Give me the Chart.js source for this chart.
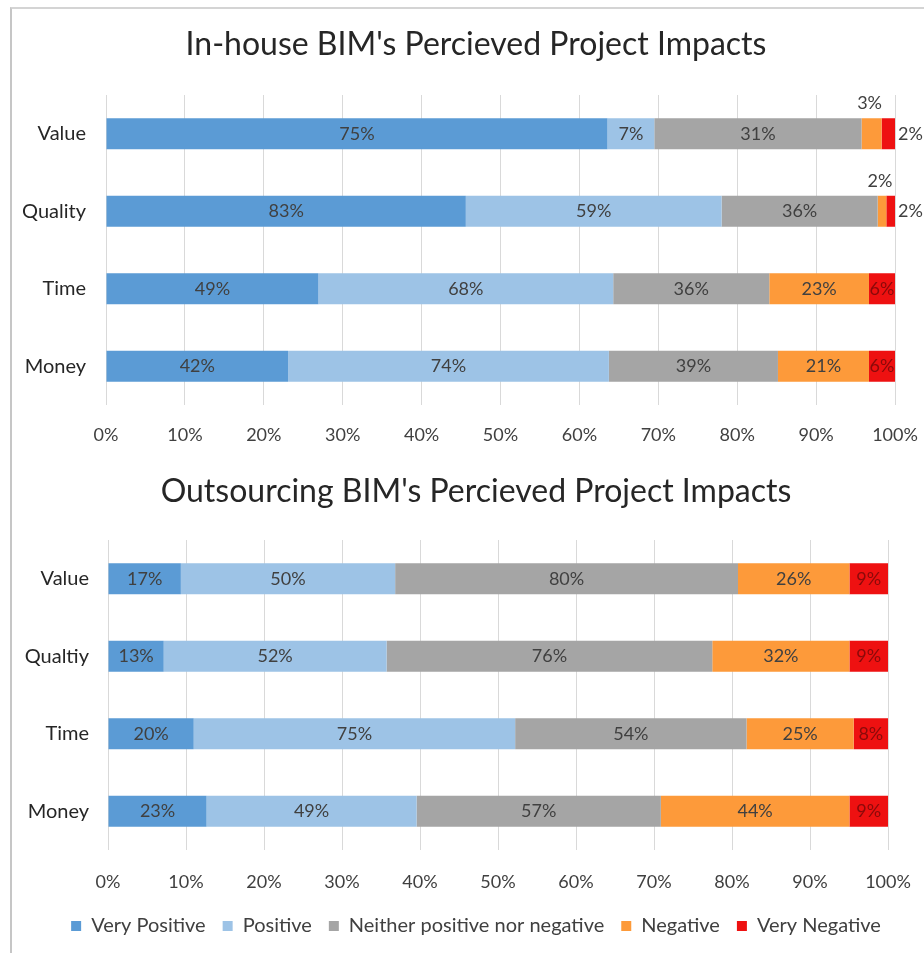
<!doctype html>
<html>
<head>
    <meta charset="utf-8">
    <title>BIM Perceived Project Impacts</title>
    <script src="https://cdn.jsdelivr.net/npm/chart.js"></script>
    <style>
        body { margin: 0; background: #fff; overflow: hidden; }
        #frame { position: absolute; left: 10px; top: 7px; width: 912px; height: 944px;
                 border-left: 2px solid #c6c6c6; border-top: 2px solid #d4d4d4; }
        .box { position: absolute; left: 0; width: 924px; }
        #box1 { top: 0; height: 460px; }
        #box2 { top: 460px; height: 494px; }
    </style>
</head>
<body>
<div id="frame"></div>
<div class="box" id="box1"><canvas id="chartIn"></canvas></div>
<div class="box" id="box2"><canvas id="chartOut"></canvas></div>

<script>
    // survey percentages shown on the bars; bars themselves are 100% stacked
    var seriesNames = ['Very Positive', 'Positive', 'Neither positive nor negative', 'Negative', 'Very Negative'];
    var seriesColors = ['#5b9bd5', '#9dc3e6', '#a5a5a5', '#fd9a3a', '#ee1111'];

    var inhouseCats = ['Value', 'Quality', 'Time', 'Money'];
    var inVeryPos = [75, 83, 49, 42];
    var inPos = [7, 59, 68, 74];
    var inNeither = [31, 36, 36, 39];
    var inNeg = [3, 2, 23, 21];
    var inVeryNeg = [2, 2, 6, 6];

    var outCats = ['Value', 'Qualtiy', 'Time', 'Money'];
    var outVeryPos = [17, 13, 20, 23];
    var outPos = [50, 52, 75, 49];
    var outNeither = [80, 76, 54, 57];
    var outNeg = [26, 32, 25, 44];
    var outVeryNeg = [9, 9, 8, 9];

    var xTicks = [0, 10, 20, 30, 40, 50, 60, 70, 80, 90, 100];

    var FONT = 'Lato, "Open Sans", sans-serif';
    Chart.defaults.font.family = FONT;
    Chart.defaults.color = '#404040';

    function buildDatasets(rows) {
        var n = rows[0].length;
        var totals = [];
        for (var i = 0; i < n; i++) {
            var t = 0;
            rows.forEach(function (r) { t += r[i]; });
            totals.push(t);
        }
        return rows.map(function (r, k) {
            return {
                label: seriesNames[k],
                data: r.map(function (v, i) { return v / totals[i] * 100; }),
                raw: r,
                backgroundColor: seriesColors[k],
                barPercentage: 0.8,
                categoryPercentage: 0.5
            };
        });
    }

    // value labels; segments too thin for the text get it above (Negative) or to the right (Very Negative)
    var barLabels = {
        id: 'barLabels',
        afterDatasetsDraw: function (chart) {
            var ctx = chart.ctx;
            ctx.save();
            ctx.font = '18px ' + FONT;
            ctx.textBaseline = 'middle';
            chart.data.datasets.forEach(function (ds, k) {
                var meta = chart.getDatasetMeta(k);
                meta.data.forEach(function (bar, i) {
                    var txt = ds.raw[i] + '%';
                    var w = Math.abs(bar.x - bar.base);
                    var tw = ctx.measureText(txt).width;
                    ctx.fillStyle = k === 4 ? '#8a0a0a' : '#404040';
                    if (w >= tw - 2) {
                        ctx.textAlign = 'center';
                        ctx.fillText(txt, (bar.x + bar.base) / 2, bar.y);
                    } else if (k === 4) {
                        ctx.fillStyle = '#404040';
                        ctx.textAlign = 'left';
                        ctx.fillText(txt, bar.x + 3, bar.y);
                    } else {
                        ctx.fillStyle = '#404040';
                        ctx.textAlign = 'center';
                        ctx.fillText(txt, (bar.x + bar.base) / 2 - 2, bar.y - bar.height / 2 - 15);
                    }
                });
            });
            ctx.restore();
        }
    };

    // move title / legend so they sit centred like in the original sheet
    var shiftBoxes = {
        id: 'shiftBoxes',
        afterLayout: function (chart, args, opts) {
            [['titleBlock', opts.title], ['legend', opts.legend]].forEach(function (p) {
                var box = chart[p[0]];
                if (!box || p[1] == null) return;
                var dx = p[1] - (box.left + box.right) / 2;
                box.left += dx;
                box.right += dx;
            });
        }
    };

    function makeChart(id, title, cats, rows, opts) {
        return new Chart(document.getElementById(id), {
            type: 'bar',
            data: { labels: cats, datasets: buildDatasets(rows) },
            plugins: [barLabels, shiftBoxes],
            options: {
                indexAxis: 'y',
                responsive: true,
                maintainAspectRatio: false,
                animation: false,
                layout: { padding: opts.padding },
                plugins: {
                    shiftBoxes: { title: 476, legend: 476 },
                    title: {
                        display: true,
                        text: title,
                        color: '#262626',
                        font: { size: 32, weight: 'normal', lineHeight: 1.2 },
                        padding: opts.titlePad
                    },
                    legend: {
                        display: opts.legend,
                        position: 'bottom',
                        labels: {
                            boxWidth: 10,
                            boxHeight: 10,
                            padding: 17,
                            color: '#404040',
                            font: { size: 20 }
                        }
                    },
                    tooltip: { enabled: false }
                },
                scales: {
                    x: {
                        stacked: true,
                        min: 0,
                        max: 100,
                        afterBuildTicks: function (axis) {
                            axis.ticks = xTicks.map(function (v) { return { value: v }; });
                        },
                        afterFit: function (axis) { axis.height = opts.xHeight; },
                        ticks: {
                            padding: 0,
                            color: '#404040',
                            font: { size: 18 },
                            callback: function (v) { return v + '%'; }
                        },
                        grid: { color: '#d9d9d9', tickLength: opts.tickLen, tickColor: 'rgba(0,0,0,0)' },
                        border: { display: false }
                    },
                    y: {
                        stacked: true,
                        afterFit: function (axis) { axis.width = opts.yWidth; },
                        ticks: { padding: opts.yPad, color: '#262626', font: { size: 20 } },
                        grid: { display: false },
                        border: { display: false }
                    }
                }
            }
        });
    }

    makeChart('chartIn', "In-house BIM's Percieved Project Impacts", inhouseCats,
        [inVeryPos, inPos, inNeither, inNeg, inVeryNeg],
        { padding: { left: 12, right: 29, top: 0, bottom: 0 }, titlePad: { top: 25.8, bottom: 30.8 },
          legend: false, xHeight: 55, tickLen: 19, yWidth: 94, yPad: 12 });

    makeChart('chartOut', "Outsourcing BIM's Percieved Project Impacts", outCats,
        [outVeryPos, outPos, outNeither, outNeg, outVeryNeg],
        { padding: { left: 12, right: 36, top: 0, bottom: 8 }, titlePad: { top: 12.8, bottom: 28.8 },
          legend: true, xHeight: 49, tickLen: 21, yWidth: 96, yPad: 11 });
</script>
</body>
</html>
